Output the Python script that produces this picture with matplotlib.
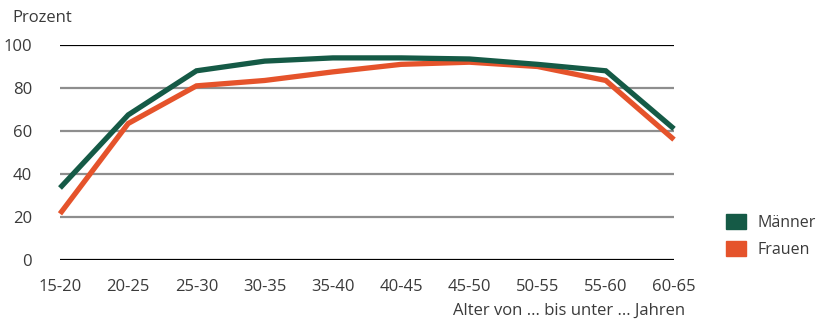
import matplotlib.pyplot as plt
from matplotlib.patches import Patch

# === Data ===
age_groups = ["15-20", "20-25", "25-30", "30-35", "35-40",
              "40-45", "45-50", "50-55", "55-60", "60-65"]
maenner = [33.5, 67.5, 88.0, 92.5, 94.0, 94.0, 93.5, 91.0, 88.0, 61.0]
frauen = [21.5, 63.5, 81.0, 83.5, 87.5, 91.0, 92.0, 90.0, 83.5, 56.0]
y_ticks = [0, 20, 40, 60, 80, 100]

green = "#155a46"
orange = "#e5532b"
text_col = "#3a3a3a"

plt.rcParams['font.family'] = ['Open Sans', 'DejaVu Sans']

fig = plt.figure(figsize=(8.22, 3.2), dpi=100)
ax = fig.add_axes([60 / 822, 1 - 260 / 320, (674 - 60) / 822, (260 - 45) / 320])

x = list(range(len(age_groups)))

# grid lines
for t in y_ticks:
    col = "black" if t in (0, 100) else "#8e8e8e"
    ax.axhline(t, color=col, lw=1.6, zorder=1)

ax.plot(x, maenner, color=green, lw=3.8, solid_joinstyle="miter",
        solid_capstyle="butt", clip_on=False, zorder=3)
ax.plot(x, frauen, color=orange, lw=3.8, solid_joinstyle="miter",
        solid_capstyle="butt", clip_on=False, zorder=2)

ax.set_xlim(0, len(age_groups) - 1)
ax.set_ylim(0, 100)
ax.set_xticks(x)
ax.set_xticklabels(age_groups)
ax.set_yticks(y_ticks)
ax.tick_params(length=0, labelsize=12, labelcolor=text_col)
ax.tick_params(axis='y', pad=20)
ax.tick_params(axis='x', pad=14)
for s in ax.spines.values():
    s.set_visible(False)

fig.text(12 / 822, 1 - 18 / 320, "Prozent", fontsize=12, color=text_col,
         va="center", ha="left")
fig.text(685 / 822, 1 - 311 / 320, "Alter von ... bis unter ... Jahren",
         fontsize=12, color=text_col, va="center", ha="right")

handles = [Patch(color=green, label="Männer"), Patch(color=orange, label="Frauen")]
fig.legend(handles=handles, loc="center left", bbox_to_anchor=(726 / 822, 1 - 236 / 320),
           frameon=False, fontsize=11.5, labelcolor=text_col, borderpad=0,
           borderaxespad=0, handlelength=1.25, handleheight=1.1,
           handletextpad=0.7, labelspacing=0.6)

fig.savefig("out.png", dpi=100)
